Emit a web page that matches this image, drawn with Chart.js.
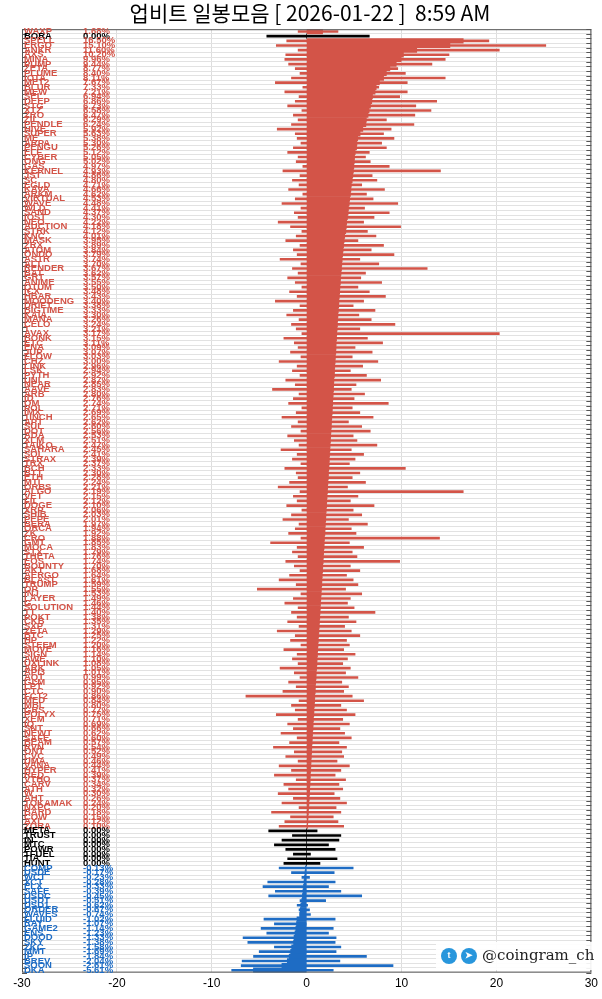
<!DOCTYPE html>
<html><head><meta charset="utf-8">
<script src="https://cdn.jsdelivr.net/npm/chart.js@4"></script>
<style>html,body{margin:0;padding:0;background:#fff}#w{width:602px;height:999px}</style>
</head><body><div id="w"><canvas id="c"></canvas></div>
<script>
const TITLE = "업비트 일봉모음 [ 2026-01-22 ]  8:59 AM";
const xTicks = [-30,-20,-10,0,10,20,30];
// top rows
const topNames = ["WAXP","BORA"];
const topChange = [1.68,0.00];
const topLow = [-0.9,-4.2];
const topHigh = [3.3,6.6];
// rising coins
const posNames = ["SPELL","ERGO","ANKR","AXS","MINA","PUMP","ZETA","PLUME","IOTA","MET2","BLUR","MEW","SEI","DEEP","STG","XTZ","ZRO","ZIL","PENDLE","HIVE","SUPER","ME","ARPA","PENGU","ELF","CYBER","ONG","GAS","KERNEL","JST","SC","EGLD","KAVA","ARKM","VIRTUAL","WAVE","WLD","SAND","IOST","NEO","AUCTION","STRK","KNC","MASK","ZRX","ATOM","ONDO","ASTR","ALT","RENDER","BAT","GRT","ANIME","QTUM","ICX","HBAR","MOODENG","DRIFT","BIGTIME","KAIA","MANA","CELO","T","AVAX","BONK","ETC","ENA","JUP","FLOW","CHZ","LINK","LSK","PYTH","UNI","NEAR","AAVE","ARB","ID","OM","POL","IMX","1INCH","APT","SUI","DOT","ADA","XLM","TAIKO","SAHARA","SOL","STRAX","TRX","BCH","BTT","ETH","MTL","ORBS","ALGO","VET","FIL","DOGE","XRP","SHIB","PEPE","BERA","ORCA","ZK","CRO","GMT","MOCA","STX","THETA","EOS","BOUNTY","AKT","AERGO","BLAST","TRUMP","OP","INJ","LAYER","G","SOLUTION","TT","POKT","CKB","SXP","ZETA","BTC","HP","STEEM","MOVE","SIGN","AWE","UXLINK","ARK","API3","AQT","GLM","LPT","CTC","FCT2","MED","MBL","GRS","POLYX","XEM","IQ","SNT","NEWT","SAFE","BEAM","RVN","ONT","CVC","UMA","VANA","HYPER","RED","VTHO","CARV","ATH","W","AHT","TOKAMAK","NXPC","BARD","COW","AXL","ZORA","LINEA","BIO"];
const posChange = [16.5,15.1,11.6,10.2,9.96,9.44,8.77,8.40,8.11,7.67,7.33,7.21,6.94,6.86,6.73,6.58,6.47,6.29,6.24,5.92,5.63,5.38,5.30,5.26,5.12,5.05,5.02,4.97,4.93,4.86,4.80,4.71,4.66,4.62,4.53,4.48,4.41,4.37,4.30,4.22,4.18,4.12,4.01,3.95,3.89,3.84,3.79,3.74,3.70,3.67,3.62,3.57,3.55,3.50,3.48,3.43,3.40,3.38,3.33,3.30,3.26,3.24,3.21,3.17,3.15,3.11,3.09,3.07,3.03,3.00,2.96,2.94,2.92,2.87,2.85,2.83,2.80,2.76,2.74,2.71,2.69,2.65,2.62,2.60,2.56,2.53,2.51,2.47,2.45,2.41,2.39,2.37,2.33,2.30,2.28,2.24,2.21,2.19,2.15,2.12,2.10,2.06,2.03,2.01,1.97,1.94,1.92,1.88,1.85,1.83,1.79,1.76,1.74,1.70,1.68,1.64,1.61,1.59,1.55,1.53,1.49,1.46,1.44,1.40,1.38,1.35,1.31,1.29,1.25,1.22,1.20,1.16,1.14,1.10,1.08,1.05,1.01,0.99,0.95,0.92,0.90,0.86,0.84,0.80,0.77,0.75,0.71,0.69,0.66,0.62,0.60,0.57,0.54,0.52,0.49,0.46,0.44,0.41,0.39,0.37,0.34,0.32,0.30,0.26,0.24,0.20,0.18,0.15,0.12,0.10];
const posLow = [-2.1,-3.2,-0.9,-2.2,-2.3,-1.9,-1.2,-0.7,-1.6,-3.3,-0.4,-2.3,-0.8,-1.2,-2.0,-0.5,-1.4,-0.9,-1.6,-3.1,-1.2,-1.0,-0.6,-1.4,-2.0,-0.9,-1.1,-0.4,-2.5,-0.7,-1.5,-0.8,-1.9,-0.4,-1.2,-2.6,-0.6,-1.3,-0.9,-3.0,-1.7,-0.5,-1.1,-2.2,-0.7,-1.4,-1.0,-2.8,-0.6,-1.5,-0.9,-2.0,-1.2,-0.5,-1.8,-1.0,-3.3,-0.7,-1.4,-2.1,-0.8,-1.6,-1.1,-0.5,-2.4,-1.3,-0.9,-1.7,-0.6,-2.9,-1.0,-1.5,-0.7,-2.2,-1.2,-3.6,-0.8,-1.4,-1.9,-0.5,-1.1,-2.6,-0.9,-1.6,-0.6,-2.0,-1.3,-0.8,-2.7,-1.0,-1.5,-0.6,-2.3,-1.1,-0.9,-1.8,-3.0,-0.7,-1.4,-1.0,-2.1,-0.5,-1.6,-2.5,-0.8,-1.2,-1.9,-0.6,-3.8,-1.0,-1.5,-0.9,-2.2,-1.3,-0.7,-1.8,-2.9,-1.1,-5.2,-0.6,-1.4,-2.3,-0.9,-1.6,-1.0,-2.0,-0.8,-3.1,-1.2,-1.7,-0.6,-2.4,-1.0,-1.5,-0.9,-2.8,-1.3,-0.7,-1.9,-1.1,-2.5,-6.4,-0.8,-1.6,-1.2,-3.2,-0.9,-2.0,-1.4,-2.7,-1.0,-1.8,-3.5,-1.3,-2.2,-0.9,-2.9,-1.6,-3.4,-1.1,-2.4,-1.9,-3.0,-1.4,-2.6,-0.8,-3.7,-1.7,-2.3,-2.9,-1.2,-4.0,-1.5,-2.7];
const posHigh = [19.2,25.2,20.3,15.0,14.6,13.2,9.6,10.4,14.6,10.6,7.6,10.6,9.8,13.7,11.5,13.1,11.4,8.4,11.3,8.9,8.1,9.2,7.9,8.4,6.6,6.2,6.7,8.7,14.1,6.9,7.4,5.8,8.2,6.3,7.0,9.6,6.1,8.7,7.1,6.0,9.9,6.4,7.3,5.4,8.1,6.8,9.2,5.6,7.6,12.7,6.2,5.7,7.9,5.4,6.6,8.3,6.0,4.9,7.2,5.5,6.8,9.3,5.6,20.3,6.4,8.0,5.1,6.9,4.8,7.5,5.9,4.6,6.3,7.8,5.2,4.7,6.1,5.0,8.6,4.8,5.6,7.0,4.4,5.8,6.7,4.9,5.3,7.4,4.7,6.0,5.1,4.5,10.4,5.6,4.8,6.2,4.3,16.5,5.4,4.6,7.1,4.9,5.8,4.4,6.4,4.7,5.2,14.0,4.5,6.0,4.8,5.3,9.8,4.6,5.6,4.2,4.9,5.4,4.1,5.8,4.6,4.3,5.0,7.2,4.4,5.2,4.0,4.7,5.6,4.2,4.5,3.9,5.1,4.3,3.8,4.6,4.1,5.4,3.7,4.4,3.9,4.8,6.0,3.6,4.2,5.1,3.8,4.5,3.5,4.0,4.7,3.4,4.2,3.7,3.9,3.2,4.5,3.6,3.0,4.1,3.4,3.8,2.9,3.5,4.2,3.1,3.6,2.8,3.3,3.9,2.7,3.4,2.9,3.5,2.6];
// unchanged coins
const zeroNames = ["META","TRUST","IN","MTC","POWR","TFUEL","TIA","HUNT"];
const zeroChange = [0,0,0,0,0,0,0,0];
const zeroLow = [-4.0,-1.5,-2.6,-3.4,-2.2,-1.4,-2.0,-2.4];
const zeroHigh = [1.1,3.6,3.4,2.3,3.0,0.4,3.2,1.4];
// falling coins
const negNames = ["COMP","USDE","WCT","XCT","ELX","SAFE","USDC","USDT","USD1","ORDER","WAVES","FLUID","RAY","GAME2","ENS","DOOD","SKY","ZKC","MMT","IP","BREV","SOON","DKA"];
const negChange = [-0.13,-0.17,-0.23,-0.28,-0.33,-0.39,-0.45,-0.51,-0.62,-0.67,-0.74,-1.02,-1.07,-1.14,-1.23,-1.33,-1.38,-1.58,-1.69,-1.84,-2.04,-2.61,-5.61];
const negLow = [-2.9,-1.6,-0.5,-4.1,-4.6,-3.3,-4.0,-0.7,-1.0,-0.8,-0.7,-4.5,-3.4,-4.8,-4.2,-6.7,-6.2,-3.4,-5.0,-5.6,-6.8,-6.9,-7.9];
const negHigh = [4.9,2.9,0.3,3.0,2.3,3.6,5.8,2.0,0.1,0.3,0.4,3.0,0.0,2.8,2.3,3.1,3.0,3.6,3.1,6.3,3.5,9.1,2.8];

const P = posChange.length;
const names = [...topNames, ...posNames.slice(0,P), ...zeroNames, ...negNames];
const change = [...topChange, ...posChange, ...zeroChange, ...negChange];
const low = [...topLow, ...posLow.slice(0,P), ...zeroLow, ...negLow];
const high = [...topHigh, ...posHigh.slice(0,P), ...zeroHigh, ...negHigh];
const red='rgb(211,84,72)', blue='rgb(30,108,196)';
const col = v => v>0?red:(v<0?blue:'#000');
const bodies = change.map(v=>[0,v]);
const whisk = low.map((l,i)=>[l,high[i]]);
const labelPlugin = {id:'lbl', afterDraw(ch){
  const c=ch.ctx, y=ch.scales.y, a=ch.chartArea;
  c.save();
  c.strokeStyle='#555'; c.lineWidth=1;
  c.strokeRect(a.left+0.5,a.top+0.5,a.right-a.left-1,a.bottom-a.top-1);
  const n=names.length, h=(a.bottom-a.top)/n;
  c.beginPath();
  for(let i=0;i<=n;i++){const yy=Math.round(a.top+i*h)+0.5;c.moveTo(a.left,yy);c.lineTo(a.left+5,yy);c.moveTo(a.right-5,yy);c.lineTo(a.right,yy);}
  c.stroke();
  c.font='bold 9.5px "Liberation Sans", Arial'; c.textBaseline='middle';
  names.forEach((nm,i)=>{const yy=y.getPixelForValue(i);c.fillStyle=col(change[i]);
    c.fillText(nm||'',a.left+2,yy);c.fillText(change[i].toFixed(2)+'%',a.left+61,yy);});
  c.fillStyle='rgba(255,255,255,0.92)'; c.fillRect(436,942,158,28);
  [449,469].forEach(x=>{c.beginPath();c.arc(x,956,8,0,7);c.fillStyle='rgb(40,150,220)';c.fill();});
  c.fillStyle='#fff';c.font='bold 9px Arial';c.textAlign='center';c.fillText('t',449,956);c.fillText('➤',469,956);
  c.textAlign='left';c.fillStyle='#222';c.font='15px "DejaVu Serif", serif';c.fillText('@coingram_ch',482,956);
  c.restore();
}};
new Chart(document.getElementById('c'),{type:'bar',
 data:{labels:names.map((n,i)=>i),datasets:[
  {data:whisk,backgroundColor:change.map(col),barThickness:2,grouped:false,order:2},
  {data:bodies,backgroundColor:change.map(col),barPercentage:1,categoryPercentage:1,grouped:false,order:1}]},
 options:{indexAxis:'y',responsive:true,maintainAspectRatio:false,animation:false,
  layout:{padding:{left:22,right:4,top:0,bottom:4}},
  plugins:{legend:{display:false},tooltip:{enabled:false},
   title:{display:true,text:TITLE,font:{size:21,family:'"Noto Sans CJK KR", sans-serif',weight:'normal'},color:'#000',padding:{top:0,bottom:4}}},
  scales:{
   x:{min:-30,max:30,afterBuildTicks(s){s.ticks=xTicks.map(v=>({value:v}));},
      ticks:{color:'#000',font:{size:12,family:'"Liberation Sans", Arial'},maxRotation:0,padding:4},
      grid:{color:'#ddd',drawTicks:false},border:{display:false}},
   y:{ticks:{display:false},grid:{color:'#e2e2e2',offset:true,drawTicks:false},border:{display:false},afterFit(s){s.width=0;}}
  }}, plugins:[labelPlugin]});
</script></body></html>
